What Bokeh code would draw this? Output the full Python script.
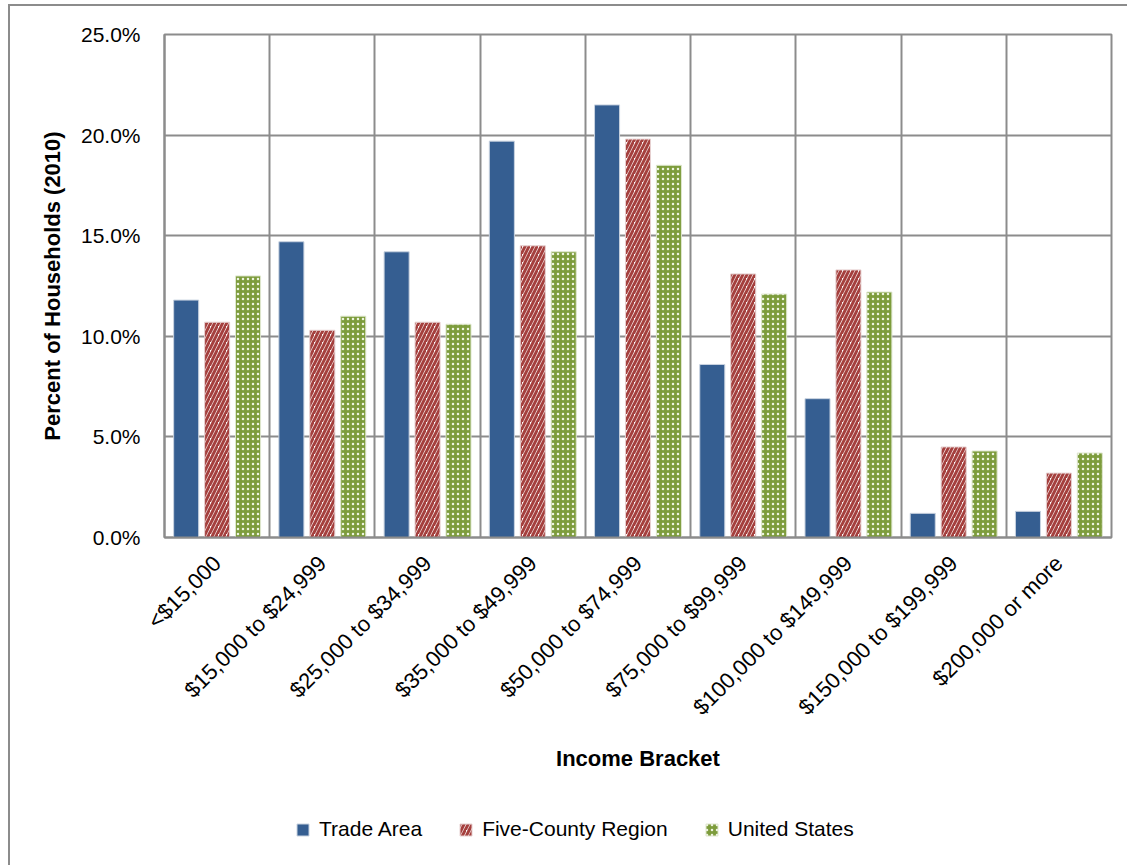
from bokeh.plotting import figure
from bokeh.layouts import column
from bokeh.models import Range1d, FixedTicker, NumeralTickFormatter, Legend, LegendItem
from bokeh.embed import file_html
from bokeh.resources import INLINE
import math

categories = ["<$15,000", "$15,000 to $24,999", "$25,000 to $34,999", "$35,000 to $49,999",
              "$50,000 to $74,999", "$75,000 to $99,999", "$100,000 to $149,999",
              "$150,000 to $199,999", "$200,000 or more"]
trade_area = [11.8, 14.7, 14.2, 19.7, 21.5, 8.6, 6.9, 1.2, 1.3]
five_county = [10.7, 10.3, 10.7, 14.5, 19.8, 13.1, 13.3, 4.5, 3.2]
united_states = [13.0, 11.0, 10.6, 14.2, 18.5, 12.1, 12.2, 4.3, 4.2]
series_names = ["Trade Area", "Five-County Region", "United States"]
y_ticks = [0, 5, 10, 15, 20, 25]

FONT = "Liberation Sans"
GRID = "#8c8c8c"

STYLES = [
    dict(fill_color="#355E91", line_color="#c9d3e0", line_width=1),
    dict(fill_color="white", hatch_pattern="/", hatch_color="#A5403E",
         hatch_scale=8, hatch_weight=3, line_color="#e6d0d0", line_width=1),
    dict(fill_color="#7D9C3C", hatch_pattern=".", hatch_color="#eef3e0",
         hatch_scale=5, hatch_weight=2, line_color="#dfe7cf", line_width=1),
]

n = len(categories)
p = figure(width=1117, height=790, output_backend="svg", toolbar_location=None,
           x_range=Range1d(0, n), y_range=Range1d(0, 0.25),
           min_border_left=154, min_border_right=16, min_border_top=28, min_border_bottom=259)

centers = [i + 0.5 for i in range(n)]
w = 0.238
off = 0.294
series = [trade_area, five_county, united_states]
offsets = [-off, 0.0, off]
for vals, o, st in zip(series, offsets, STYLES):
    p.vbar(x=[c + o for c in centers], top=[v / 100 for v in vals], width=w, **st)

# grid
p.xgrid.ticker = FixedTicker(ticks=list(range(n + 1)))
p.xgrid.grid_line_color = GRID
p.xgrid.grid_line_width = 2
p.ygrid.ticker = FixedTicker(ticks=[t / 100 for t in y_ticks])
p.ygrid.grid_line_color = GRID
p.ygrid.grid_line_width = 2
p.outline_line_color = GRID
p.outline_line_width = 2

# y axis
p.yaxis.ticker = FixedTicker(ticks=[t / 100 for t in y_ticks])
p.yaxis.formatter = NumeralTickFormatter(format="0.0%")
p.yaxis.axis_label = "Percent of Households (2010)"
p.yaxis.axis_label_text_font = FONT
p.yaxis.axis_label_text_font_size = "22px"
p.yaxis.axis_label_text_font_style = "bold"
p.yaxis.axis_label_text_color = "black"
p.yaxis.axis_label_standoff = 13
p.yaxis.major_label_text_font = FONT
p.yaxis.major_label_text_font_size = "21px"
p.yaxis.major_label_text_color = "black"
p.yaxis.major_tick_out = 0
p.yaxis.major_tick_in = 0
p.yaxis.minor_tick_out = 0
p.yaxis.minor_tick_in = 0
p.yaxis.major_label_standoff = 24
p.yaxis.axis_line_color = GRID
p.yaxis.axis_line_width = 2

# x axis
p.xaxis.ticker = FixedTicker(ticks=centers)
p.xaxis.major_label_overrides = {c: cat for c, cat in zip(centers, categories)}
p.xaxis.major_label_orientation = math.pi / 4
p.xaxis.major_label_text_font = FONT
p.xaxis.major_label_text_font_size = "22px"
p.xaxis.major_label_text_color = "black"
p.xaxis.major_label_standoff = 22
p.xaxis.major_tick_out = 0
p.xaxis.major_tick_in = 0
p.xaxis.minor_tick_out = 0
p.xaxis.minor_tick_in = 0
p.xaxis.axis_line_color = GRID
p.xaxis.axis_line_width = 2
p.xaxis.axis_label = "Income Bracket"
p.xaxis.axis_label_text_font = FONT
p.xaxis.axis_label_text_font_size = "22px"
p.xaxis.axis_label_text_font_style = "bold"
p.xaxis.axis_label_text_color = "black"
p.xaxis.axis_label_standoff = 14

# legend strip below the chart (its renderers are hidden; only the legend shows)
pl = figure(width=1117, height=69, output_backend="svg", toolbar_location=None,
            x_range=Range1d(0, n), y_range=Range1d(0, 0.25),
            min_border_left=0, min_border_right=0, min_border_top=0, min_border_bottom=0)
pl.axis.visible = False
pl.grid.visible = False
pl.outline_line_color = None
items = []
for name, vals, o, st in zip(series_names, series, offsets, STYLES):
    r = pl.vbar(x=[c + o for c in centers], top=[v / 100 for v in vals], width=w,
                visible=False, **st)
    items.append(LegendItem(label=name, renderers=[r]))
legend = Legend(items=items, location=(131, 24), orientation="horizontal",
                glyph_width=15, glyph_height=15, label_standoff=9, spacing=36,
                padding=0, margin=0, border_line_color=None, background_fill_alpha=0,
                inactive_fill_alpha=0,
                label_text_font=FONT, label_text_font_size="21px", label_text_color="black")
pl.add_layout(legend, "center")

layout = column(p, pl, spacing=0,
                styles={"margin-left": "8px", "margin-top": "4px",
                        "border-left": f"2px solid {GRID}", "border-top": f"2px solid {GRID}"})

open("out.html", "w").write(file_html(layout, INLINE))
